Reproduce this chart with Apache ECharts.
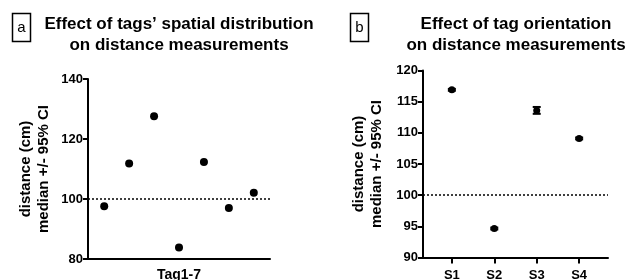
<!DOCTYPE html>
<html><head><meta charset="utf-8">
<script src="https://cdn.jsdelivr.net/npm/echarts@6/dist/echarts.min.js"></script>
<style>html,body{margin:0;padding:0;background:#fff}#c{width:630px;height:280px}</style>
</head><body><div id="c"></div>
<script>
// Panel a: tags' spatial distribution
const tagAxisLabel = 'Tag1-7';
const tagIndex = [1, 2, 3, 4, 5, 6, 7];
const tagValues = [97.6, 111.8, 127.6, 83.8, 112.3, 97.0, 102.1];
const tagYTicks = [80, 100, 120, 140];
// Panel b: tag orientation
const orientCats = ['S1', 'S2', 'S3', 'S4'];
const orientMedian = [116.9, 94.65, 113.6, 109.1];
const orientLow = [116.75, 94.5, 113.05, 108.95];
const orientHigh = [117.05, 94.8, 114.15, 109.25];
const orientYTicks = [90, 95, 100, 105, 110, 115, 120];
const refValue = 100;

const FONT = '"Liberation Sans", Arial, sans-serif';
const chart = echarts.init(document.getElementById('c'));

function yAxisCfg(gridIndex, min, max, interval, gap) {
  return {
    type: 'value', gridIndex, min, max, interval,
    name: 'distance (cm)\nmedian +/- 95% CI',
    nameLocation: 'middle', nameRotate: 90, nameGap: gap,
    nameTextStyle: { fontFamily: FONT, fontWeight: 'bold', fontSize: 15, color: '#000', lineHeight: 18 },
    axisLine: { show: true, onZero: false, lineStyle: { color: '#000', width: 2 } },
    axisTick: { show: true, length: 5, lineStyle: { color: '#000', width: 2 } },
    axisLabel: { show: true, fontFamily: FONT, fontWeight: 'bold', fontSize: 13, color: '#000', margin: 5 },
    splitLine: { show: false }
  };
}

const orientIdx = orientCats.map((c, i) => i + 1);

chart.setOption({
  animation: false,
  backgroundColor: '#fff',
  title: [
    { text: "Effect of tags\u2019 spatial distribution\non distance measurements", left: 174, top: 9, textAlign: 'center',
      textStyle: { fontFamily: FONT, fontWeight: 'bold', fontSize: 17, color: '#000', lineHeight: 21 } },
    { text: "Effect of tag orientation\non distance measurements", left: 511, top: 9, textAlign: 'center',
      textStyle: { fontFamily: FONT, fontWeight: 'bold', fontSize: 17, color: '#000', lineHeight: 21 } }
  ],
  graphic: [
    { type: 'rect', shape: { x: 12.5, y: 13.5, width: 18, height: 28 }, style: { fill: 'none', stroke: '#000', lineWidth: 1.5 } },
    { type: 'text', x: 21.5, y: 27.5, style: { text: 'a', fontFamily: FONT, fontSize: 15, fill: '#000', align: 'center', verticalAlign: 'middle' } },
    { type: 'rect', shape: { x: 350.5, y: 13.5, width: 18, height: 28 }, style: { fill: 'none', stroke: '#000', lineWidth: 1.5 } },
    { type: 'text', x: 359.5, y: 27.5, style: { text: 'b', fontFamily: FONT, fontSize: 15, fill: '#000', align: 'center', verticalAlign: 'middle' } }
  ],
  grid: [
    { left: 88, width: 182, top: 79, height: 180, outerBoundsMode: 'none', containLabel: false },
    { left: 423, width: 185, top: 70.5, height: 187, outerBoundsMode: 'none', containLabel: false }
  ],
  xAxis: [
    { type: 'value', gridIndex: 0, min: 0.35, max: 7.65,
      name: tagAxisLabel, nameLocation: 'middle', nameGap: 9,
      nameTextStyle: { fontFamily: FONT, fontWeight: 'bold', fontSize: 14, color: '#000' },
      axisLine: { show: true, onZero: false, lineStyle: { color: '#000', width: 2 } },
      axisTick: { show: false }, axisLabel: { show: false }, splitLine: { show: false } },
    { type: 'value', gridIndex: 1, min: 0.32, max: 4.68,
      axisLine: { show: true, onZero: false, lineStyle: { color: '#000', width: 2 } },
      axisTick: { show: true, length: 6, customValues: orientIdx, lineStyle: { color: '#000', width: 2 } },
      axisLabel: { show: true, customValues: orientIdx, margin: 11, fontFamily: FONT, fontWeight: 'bold', fontSize: 13, color: '#000',
        formatter: v => orientCats[Math.round(v) - 1] || '' },
      splitLine: { show: false } }
  ],
  yAxis: [
    yAxisCfg(0, tagYTicks[0], tagYTicks[tagYTicks.length - 1], 20, 35),
    yAxisCfg(1, orientYTicks[0], orientYTicks[orientYTicks.length - 1], 5, 37)
  ],
  series: [
    { type: 'scatter', xAxisIndex: 0, yAxisIndex: 0, symbol: 'circle', symbolSize: 8,
      itemStyle: { color: '#000', opacity: 1 },
      data: tagIndex.map((x, i) => [x, tagValues[i]]),
      markLine: { silent: true, symbol: 'none', label: { show: false },
        lineStyle: { color: '#000', type: [2, 2], width: 1.5 }, data: [{ yAxis: refValue }] } },
    { type: 'custom', xAxisIndex: 1, yAxisIndex: 1,
      data: orientIdx.map((x, i) => [x, orientLow[i], orientHigh[i]]),
      renderItem: (params, api) => {
        const lo = api.coord([api.value(0), api.value(1)]);
        const hi = api.coord([api.value(0), api.value(2)]);
        const hw = 4;
        const st = { stroke: '#000', lineWidth: 2 };
        return { type: 'group', children: [
          { type: 'line', shape: { x1: lo[0], y1: lo[1], x2: hi[0], y2: hi[1] }, style: st },
          { type: 'line', shape: { x1: lo[0] - hw, y1: lo[1], x2: lo[0] + hw, y2: lo[1] }, style: st },
          { type: 'line', shape: { x1: hi[0] - hw, y1: hi[1], x2: hi[0] + hw, y2: hi[1] }, style: st }
        ] };
      },
      z: 3 },
    { type: 'scatter', xAxisIndex: 1, yAxisIndex: 1, symbol: 'circle', symbolSize: 7,
      itemStyle: { color: '#000', opacity: 1 },
      data: orientIdx.map((x, i) => [x, orientMedian[i]]),
      markLine: { silent: true, symbol: 'none', label: { show: false },
        lineStyle: { color: '#000', type: [2, 2], width: 1.5 }, data: [{ yAxis: refValue }] } }
  ]
});
</script>
</body></html>
